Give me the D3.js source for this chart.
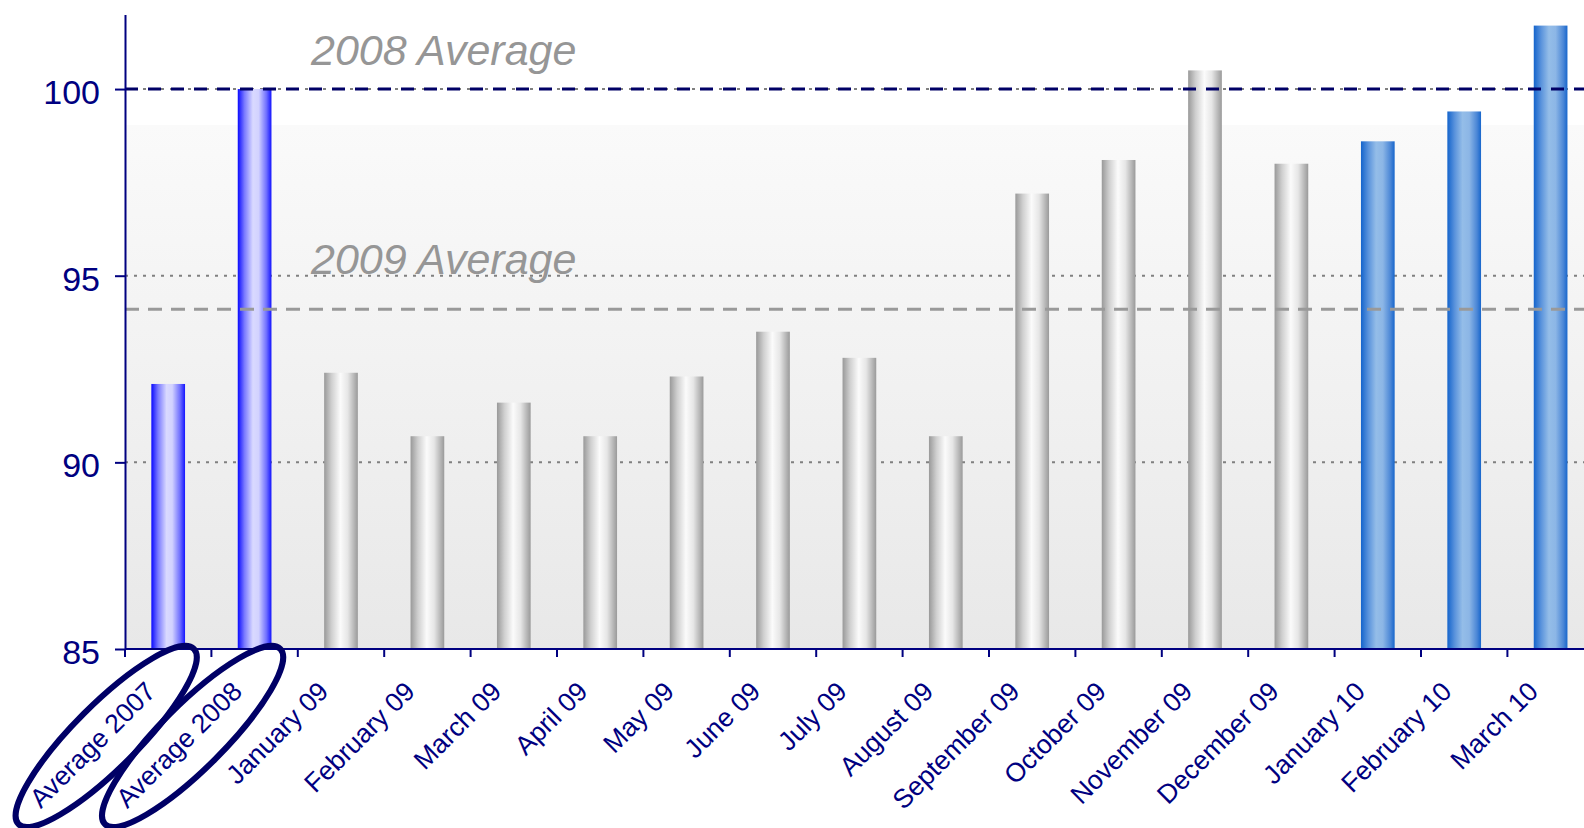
<!DOCTYPE html>
<html>
<head>
<meta charset="utf-8">
<script src="https://cdn.jsdelivr.net/npm/d3@7"></script>
<style>
  html, body { margin: 0; padding: 0; background: #ffffff; }
  svg { display: block; }
</style>
</head>
<body>
<svg id="chart" width="1584" height="828"></svg>
<script>
// ---- data ----
const categories = [
  "Average 2007", "Average 2008",
  "January 09", "February 09", "March 09", "April 09", "May 09", "June 09",
  "July 09", "August 09", "September 09", "October 09", "November 09", "December 09",
  "January 10", "February 10", "March 10"
];
const values = [
  92.1, 100.0,
  92.4, 90.7, 91.6, 90.7, 92.3, 93.5,
  92.8, 90.7, 97.2, 98.1, 100.5, 98.0,
  98.6, 99.4, 101.7
];
// which fill each bar uses: yearly averages, 2009 months, 2010 months
const groups = [
  "avg", "avg",
  "y09", "y09", "y09", "y09", "y09", "y09",
  "y09", "y09", "y09", "y09", "y09", "y09",
  "y10", "y10", "y10"
];
const yTicks = [85, 90, 95, 100];
const gridValues = [90, 95, 100];
const yDomain = [85, 102];
const avg2008 = 100;
const avg2009 = 94.1;
const circledCategories = ["Average 2007", "Average 2008"];

// ---- layout ----
const W = 1584, H = 828;
const left = 125, axisY = 649, topY = 14.4;
const step = 86.4;

const svg = d3.select("#chart");
const FONT = "'Liberation Sans', Arial, Helvetica, sans-serif";

const x = d3.scaleBand()
  .domain(categories)
  .range([left, left + step * categories.length])
  .padding(0);
const y = d3.scaleLinear().domain(yDomain).range([axisY, topY]);

const barW = x.bandwidth() * 0.39;

// ---- gradients ----
const defs = svg.append("defs");
function hGrad(id, stops) {
  const g = defs.append("linearGradient").attr("id", id)
    .attr("x1", "0%").attr("x2", "100%").attr("y1", "0%").attr("y2", "0%");
  stops.forEach(s => g.append("stop").attr("offset", s[0]).attr("stop-color", s[1]));
}
hGrad("fill-avg", [["0%", "#0a0aff"], ["20%", "#7a7aff"], ["45%", "#d9d9ff"], ["62%", "#d2d2ff"], ["85%", "#7070ff"], ["100%", "#1414ff"]]);
hGrad("fill-y09", [["0%", "#999999"], ["22%", "#cfcfcf"], ["48%", "#fbfbfb"], ["70%", "#e6e6e6"], ["100%", "#9a9a9a"]]);
hGrad("fill-y10", [["0%", "#1464cc"], ["22%", "#5a93dc"], ["45%", "#94bde8"], ["65%", "#8cb6e6"], ["88%", "#4a86d6"], ["100%", "#1766cc"]]);

const bgGrad = defs.append("linearGradient").attr("id", "plot-bg")
  .attr("x1", "0%").attr("x2", "0%").attr("y1", "0%").attr("y2", "100%");
bgGrad.append("stop").attr("offset", "0%").attr("stop-color", "#fafafa");
bgGrad.append("stop").attr("offset", "100%").attr("stop-color", "#e8e8e8");

// ---- plot background ----
svg.append("rect")
  .attr("x", left).attr("y", 125)
  .attr("width", W - left).attr("height", axisY - 125)
  .attr("fill", "url(#plot-bg)");

// ---- gridlines ----
svg.append("g").selectAll("line")
  .data(gridValues)
  .join("line")
  .attr("x1", left).attr("x2", W)
  .attr("y1", d => y(d)).attr("y2", d => y(d))
  .attr("stroke", "#808080")
  .attr("stroke-width", 2)
  .attr("stroke-dasharray", "3,6");

// ---- bars ----
const barData = categories.map((c, i) => ({ c, v: values[i], g: groups[i] }));
svg.append("g").selectAll("rect")
  .data(barData)
  .join("rect")
  .attr("x", d => x(d.c) + (x.bandwidth() - barW) / 2)
  .attr("y", d => y(d.v))
  .attr("width", barW)
  .attr("height", d => y(yDomain[0]) - y(d.v))
  .attr("fill", d => `url(#fill-${d.g})`);

// ---- average reference lines ----
svg.append("line")
  .attr("x1", left).attr("x2", W)
  .attr("y1", y(avg2009)).attr("y2", y(avg2009))
  .attr("stroke", "#999999").attr("stroke-width", 3)
  .attr("stroke-dasharray", "14,9");

svg.append("line")
  .attr("x1", left).attr("x2", W)
  .attr("y1", y(avg2008)).attr("y2", y(avg2008))
  .attr("stroke", "#000066").attr("stroke-width", 3)
  .attr("stroke-dasharray", "13,10");

svg.append("text")
  .attr("x", 311).attr("y", y(avg2008) - 24)
  .attr("font-family", FONT).attr("font-size", 43).attr("font-style", "italic")
  .attr("fill", "#969696")
  .text("2008 Average");

svg.append("text")
  .attr("x", 311).attr("y", y(avg2009) - 35)
  .attr("font-family", FONT).attr("font-size", 43).attr("font-style", "italic")
  .attr("fill", "#969696")
  .text("2009 Average");

// ---- y axis ----
const yAxis = svg.append("g")
  .attr("transform", `translate(${left},0)`)
  .call(d3.axisLeft(y).tickValues(yTicks).tickSize(10).tickSizeOuter(0).tickPadding(15));
yAxis.select(".domain").attr("stroke", "#000080").attr("stroke-width", 2);
yAxis.selectAll(".tick line").attr("stroke", "#000080").attr("stroke-width", 2);
yAxis.selectAll(".tick text")
  .attr("font-family", FONT).attr("font-size", 34)
  .attr("fill", "#000080").attr("dy", "0.43em");

// ---- x axis ----
const xAxis = svg.append("g");
xAxis.append("line")
  .attr("x1", left).attr("x2", W)
  .attr("y1", axisY).attr("y2", axisY)
  .attr("stroke", "#000080").attr("stroke-width", 2);

const tickPositions = categories.map(c => x(c)).concat([x.range()[1]]);
xAxis.selectAll("line.tick")
  .data(tickPositions)
  .join("line")
  .attr("class", "tick")
  .attr("x1", d => d).attr("x2", d => d)
  .attr("y1", axisY).attr("y2", axisY + 8)
  .attr("stroke", "#000080").attr("stroke-width", 2);

xAxis.selectAll("text")
  .data(categories)
  .join("text")
  .attr("transform", c => `translate(${x(c) + x.bandwidth() / 2 - 11},${axisY + 44}) rotate(-45)`)
  .attr("text-anchor", "end")
  .attr("font-family", FONT).attr("font-size", 26.5)
  .attr("fill", "#000080")
  .text(c => c);

// ---- rings around the yearly-average labels ----
svg.append("g").selectAll("ellipse")
  .data(circledCategories)
  .join("ellipse")
  .attr("transform", c => `translate(${x(c) + x.bandwidth() / 2 - 62},${axisY + 87.5}) rotate(-45)`)
  .attr("rx", 124).attr("ry", 32)
  .attr("fill", "none")
  .attr("stroke", "#000066")
  .attr("stroke-width", 6);
</script>
</body>
</html>
